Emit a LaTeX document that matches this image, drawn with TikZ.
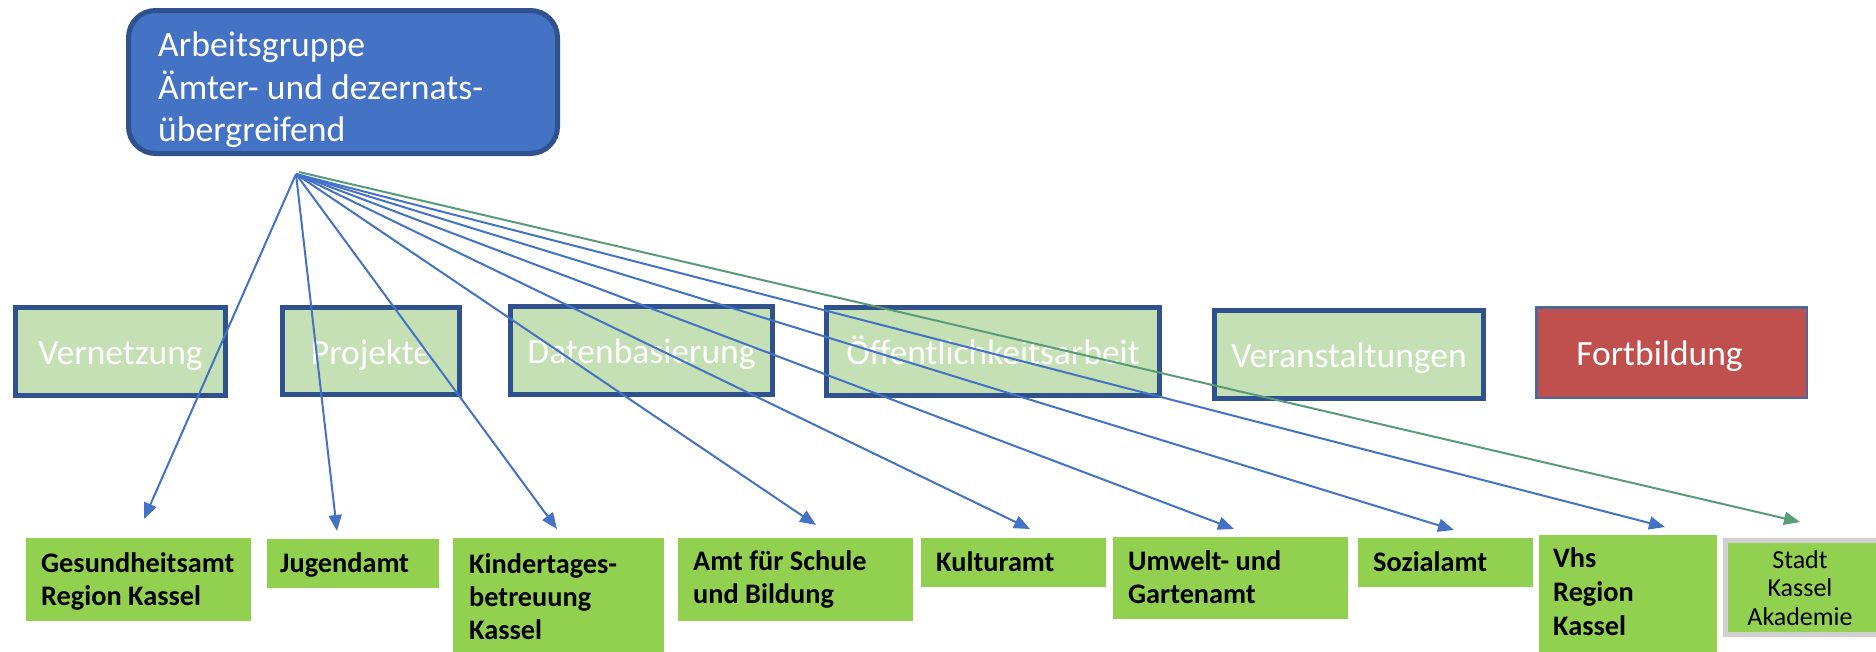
\documentclass[tikz,border=0pt]{standalone}
\usepackage{fontspec}
\setmainfont{Carlito}
\usetikzlibrary{arrows.meta}
\definecolor{agblue}{HTML}{4472C4}
\definecolor{agborder}{HTML}{2F528F}
\definecolor{lightgreen}{HTML}{C5E0B4}
\definecolor{amtgreen}{HTML}{92D050}
\definecolor{fortred}{HTML}{C0504D}
\definecolor{fortborder}{HTML}{4A6A9A}
\definecolor{arrgreen}{RGB}{88,155,118}
\definecolor{stadtgray}{HTML}{D0D0D0}
\begin{document}
\begin{tikzpicture}[x=1pt,y=-1pt,
  task/.style={draw=agborder, line width=5pt, fill=lightgreen, text=white, inner sep=0pt,
    text height=26pt, text depth=0pt, font=\fontsize{35.5}{42}\selectfont},
  amtbox/.style={fill=amtgreen, inner sep=0pt, outer sep=0pt},
  amttext/.style={anchor=base west, inner sep=0pt, font=\bfseries\fontsize{28.3}{33}\selectfont},
  fan/.style={draw=agblue, line width=2pt, -{Triangle[length=16pt,width=13pt]}},
  fangreen/.style={draw=arrgreen, line width=2pt, -{Triangle[length=16pt,width=13pt]}},
]
\fill[white] (0,0) rectangle (1876,651);
\useasboundingbox (0,0) rectangle (1876,651);

% top box
\node[draw=agborder, line width=5pt, fill=agblue, rounded corners=27pt,
  minimum width=429pt, minimum height=143pt, inner sep=0pt] (ag) at (343,82) {};
\node[anchor=base west, inner sep=0pt, text=white, font=\fontsize{35.7}{42.5}\selectfont]
  (agtext) at (158,56.5) {\vtop{\hbox{Arbeitsgruppe}\hbox{Ämter- und dezernats-}\hbox{übergreifend}}};

% middle row
\node[task, minimum width=210pt, minimum height=88pt] (vern) at (120.5,351.5) {Vernetzung};
\node[task, minimum width=177pt, minimum height=87pt] (proj) at (371,351) {Projekte};
\node[task, minimum width=262pt, minimum height=88pt] (daten) at (641.5,350.5) {Datenbasierung};
\node[task, minimum width=333pt, minimum height=88pt] (oeff) at (993,351.5) {Öffentlichkeitsarbeit};
\node[task, minimum width=269pt, minimum height=88pt] (veran) at (1349,354.5) {Veranstaltungen};
\node[task, draw=fortborder, line width=2.5pt, fill=fortred,
  minimum width=270.5pt, minimum height=90.5pt] (fort) at (1671.5,352.5) {Fortbildung\hspace*{24pt}};

% bottom boxes
\node[amtbox, minimum width=225pt, minimum height=83pt] (ges) at (138.5,579.5) {};
\node[amtbox, minimum width=172pt, minimum height=49pt] (jug) at (353,563.5) {};
\node[amtbox, minimum width=211pt, minimum height=122pt] (kind) at (558.5,599) {};
\node[amtbox, minimum width=235pt, minimum height=83pt] (amt) at (795.5,579.5) {};
\node[amtbox, minimum width=185pt, minimum height=49pt] (kult) at (1013.5,562.5) {};
\node[amtbox, minimum width=235pt, minimum height=82pt] (umw) at (1230.5,578) {};
\node[amtbox, minimum width=175pt, minimum height=49pt] (soz) at (1445.5,562.5) {};
\node[amtbox, minimum width=178pt, minimum height=125pt] (vhs) at (1628,597.5) {};
\node[amtbox, draw=stadtgray, line width=5pt, minimum width=162pt, minimum height=94pt] (stadt) at (1806.5,587.5) {};

\node[amttext] (gestext) at (41,572) {\vtop{\hbox{Gesundheitsamt}\hbox{Region Kassel}}};
\node[amttext] (jugtext) at (280,572) {Jugendamt};
\node[amttext] (kindtext) at (469,573) {\vtop{\hbox{Kindertages-}\hbox{betreuung}\hbox{Kassel}}};
\node[amttext] (amttext) at (693,570) {\vtop{\hbox{Amt für Schule}\hbox{und Bildung}}};
\node[amttext] (kulttext) at (936,571) {Kulturamt};
\node[amttext] (umwtext) at (1128,570) {\vtop{\hbox{Umwelt- und}\hbox{Gartenamt}}};
\node[amttext] (soztext) at (1373,571) {Sozialamt};
\node[amttext, font=\bfseries\fontsize{28.3}{34}\selectfont] (vhstext) at (1553,567) {\vtop{\hbox{Vhs}\hbox{Region}\hbox{Kassel}}};
\node[anchor=base, inner sep=0pt, font=\fontsize{26}{28.5}\selectfont] (stadttext) at (1800,568)
  {\vtop{\halign{\hfil#\hfil\cr Stadt\cr Kassel\cr Akademie\cr}}};

% fan connectors
\coordinate (apex) at (296,174);
\coordinate (apexg) at (299,172);
\coordinate (tges) at (144,519);
\coordinate (tjug) at (337,531);
\coordinate (tkind) at (557,529);
\coordinate (tamt) at (816,525);
\coordinate (tkult) at (1030,529);
\coordinate (tumw) at (1234,529);
\coordinate (tsoz) at (1454,530);
\coordinate (tvhs) at (1665,527);
\coordinate (tstadt) at (1800,522);

\draw[fan] (apex) -- (tges);
\draw[fan] (apex) -- (tjug);
\draw[fan] (apex) -- (tkind);
\draw[fan] (apex) -- (tamt);
\draw[fan] (apex) -- (tkult);
\draw[fan] (apex) -- (tumw);
\draw[fan] (apex) -- (tsoz);
\draw[fan] (apex) -- (tvhs);
\draw[fangreen] (apexg) -- (tstadt);
\end{tikzpicture}
\end{document}
